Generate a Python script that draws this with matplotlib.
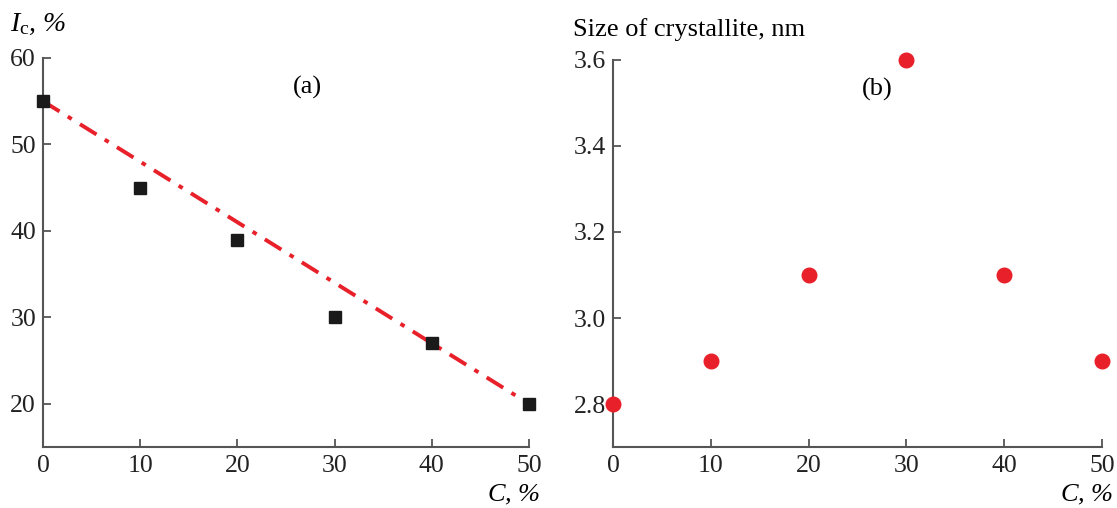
import matplotlib
matplotlib.use('Agg')
import matplotlib.pyplot as plt

plt.rcParams['font.family'] = ['Liberation Serif', 'DejaVu Serif']
plt.rcParams['mathtext.fontset'] = 'custom'
plt.rcParams['mathtext.rm'] = 'Liberation Serif'
plt.rcParams['mathtext.it'] = 'Liberation Serif:italic'

# panel (a): crystallinity index vs concentration
conc = [0, 10, 20, 30, 40, 50]
ic = [55, 45, 39, 30, 27, 20]
fit_x = [0, 50]
fit_y = [55, 20]

# panel (b): crystallite size
size_nm = [2.8, 2.9, 3.1, 3.6, 3.1, 2.9]

RED = '#e8202a'
SPINE = '#555555'
FS = 19
TFS = 18.5

fig = plt.figure(figsize=(11.17, 5.08), dpi=100)
ax1 = fig.add_axes([0.0385, 0.120, 0.4351, 0.766])
ax2 = fig.add_axes([0.5488, 0.120, 0.4378, 0.762])


def style(ax):
    for s in ('top', 'right'):
        ax.spines[s].set_visible(False)
    for s in ('left', 'bottom'):
        ax.spines[s].set_color(SPINE)
        ax.spines[s].set_linewidth(1.5)
    ax.tick_params(direction='in', length=6, width=1.3, color=SPINE,
                   labelsize=TFS, labelcolor='#222222')
    ax.tick_params(axis='x', pad=6)
    ax.tick_params(axis='y', pad=5)
    ax.set_xlim(0, 50)
    ax.set_xticks([0, 10, 20, 30, 40, 50])
    for lab in ax.get_xticklabels() + ax.get_yticklabels():
        lab.set_clip_on(False)


ax1.plot(fit_x, fit_y, color=RED, linestyle=(0, (5, 2.5, 1.2, 2.5)), linewidth=2.8,
         clip_on=False, zorder=2)
ax1.plot(conc, ic, 's', color='#1a1a1a', markersize=8, clip_on=False, zorder=3)
style(ax1)
ax1.set_ylim(15, 60)
ax1.set_yticks([20, 30, 40, 50, 60])
ax1.text(0.545, 0.925, '(a)', transform=ax1.transAxes, fontsize=FS, ha='center', va='center')

ax2.plot(conc, size_nm, 'o', color=RED, markersize=10.5, clip_on=False, zorder=3)
style(ax2)
ax2.set_ylim(2.7, 3.6)
ax2.set_yticks([2.8, 3.0, 3.2, 3.4, 3.6])
ax2.set_yticklabels(['2.8', '3.0', '3.2', '3.4', '3.6'])
ax2.text(0.54, 0.925, '(b)', transform=ax2.transAxes, fontsize=FS, ha='center', va='center')

fig.text(0.009, 0.951, r'$I_\mathrm{c}$, %', fontsize=FS + 1, ha='left', va='center', style='italic')
fig.text(0.513, 0.941, 'Size of crystallite, nm', fontsize=FS, ha='left', va='center')
fig.text(0.4834, 0.026, r'$C$, %', fontsize=FS, ha='right', va='center', style='italic')
fig.text(0.9965, 0.026, r'$C$, %', fontsize=FS, ha='right', va='center', style='italic')

fig.savefig('out.png', dpi=100)
